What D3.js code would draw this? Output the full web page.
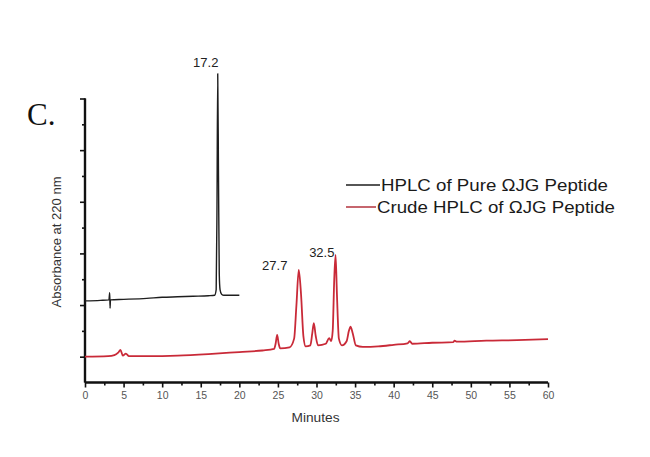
<!DOCTYPE html>
<html>
<head>
<meta charset="utf-8">
<script src="https://cdn.jsdelivr.net/npm/d3@7"></script>
<style>
  html,body{margin:0;padding:0;background:#fff;}
  svg{display:block;}
  text{font-family:Arial,"Liberation Sans",sans-serif;}
</style>
</head>
<body>
<svg id="chart" width="650" height="457"></svg>
<script>
// ---- data ----
const xTicks = [0,5,10,15,20,25,30,35,40,45,50,55,60];
const xMinorTicks = [2.5,7.5,12.5,17.5,22.5,27.5,32.5,37.5,42.5,47.5,52.5,57.5];
const yTicks = [0,1,2,3,4,5];
const yMinorTicks = [0.5,1.5,2.5,3.5,4.5];

const pureTime  = [0,2,3.1,3.2,3.25,3.3,5,8,10,12,14,16,16.8,17.0,17.1,17.2,17.3,17.4,17.5,17.7,18,20];
const pureValue = [1.08,1.09,1.10,1.24,0.94,1.10,1.11,1.13,1.15,1.16,1.17,1.18,1.19,1.30,2.8,5.48,3.5,1.6,1.3,1.21,1.19,1.19];

const crudeTime  = [0,3,3.8,4.3,4.6,4.9,5.3,5.7,8,12,16,20,23,24.5,24.7,24.9,25.1,25.3,26.5,27.1,27.4,27.7,28.0,28.3,28.6,29.2,29.45,29.65,29.9,30.2,31.2,31.65,31.9,32.1,32.3,32.47,32.65,32.9,33.3,33.9,34.2,34.4,34.7,35.1,36,38,40,41.8,42.1,42.4,45,47.7,47.9,48.2,52,56,60];
const crudeValue = [0.0,0.01,0.03,0.08,0.13,0.02,0.06,0.01,0.01,0.02,0.05,0.09,0.12,0.15,0.25,0.42,0.25,0.16,0.18,0.35,1.0,1.68,1.2,0.4,0.2,0.22,0.45,0.65,0.4,0.22,0.25,0.36,0.3,0.5,1.5,1.97,1.2,0.35,0.22,0.3,0.5,0.58,0.45,0.22,0.19,0.2,0.23,0.26,0.30,0.25,0.27,0.28,0.31,0.29,0.31,0.32,0.34];

const peakLabels = [
  {t:17.2, v:5.48, label:"17.2"},
  {t:27.7, v:1.68, label:"27.7"},
  {t:32.5, v:1.97, label:"32.5"}
];
const legendLabels = ["HPLC of Pure \u03A9JG Peptide", "Crude HPLC of \u03A9JG Peptide"];
const xTitle = "Minutes";
const yTitle = "Absorbance at 220 nm";
const panelLabel = "C.";

// ---- chart ----
const svg = d3.select("#chart");
const x = d3.scaleLinear().domain([0,60]).range([85,548]);
const y = d3.scaleLinear().domain([-0.5,5]).range([382.5,98.5]);

const axisColor = "#111";

// x axis
const xAxis = svg.append("g").attr("transform",`translate(0,${y(-0.5)})`);
xAxis.call(d3.axisBottom(x).tickValues(xTicks).tickSize(5).tickPadding(4).tickFormat(d3.format("d")));
xAxis.append("g").call(d3.axisBottom(x).tickValues(xMinorTicks).tickSize(3).tickFormat(""));
xAxis.selectAll(".domain").attr("stroke",axisColor).attr("stroke-width",2.2);
xAxis.selectAll("line").attr("stroke",axisColor).attr("stroke-width",1.6);
xAxis.selectAll("text").attr("fill","#555").style("font-size","10.5px").style("font-family","Arial, 'Liberation Sans', sans-serif");
xAxis.selectAll("path.domain").attr("d",`M${x(0)},0H${x(60)}`);

// y axis
const yAxis = svg.append("g").attr("transform",`translate(${x(0)},0)`);
yAxis.call(d3.axisLeft(y).tickValues(yTicks).tickSize(5).tickFormat(""));
yAxis.append("g").call(d3.axisLeft(y).tickValues(yMinorTicks).tickSize(3).tickFormat(""));
yAxis.selectAll(".domain").attr("stroke",axisColor).attr("stroke-width",2.2).attr("d",`M0,${y(-0.5)}V${y(5)}`);
yAxis.selectAll("line").attr("stroke",axisColor).attr("stroke-width",1.6);

// lines
const line = d3.line().x(d=>x(d[0])).y(d=>y(d[1])).curve(d3.curveMonotoneX);
const crude = crudeTime.map((t,i)=>[t,crudeValue[i]]);
const pure = pureTime.map((t,i)=>[t,pureValue[i]]);

svg.append("path").datum(crude).attr("d",line).attr("fill","none")
  .attr("stroke","#c92a38").attr("stroke-width",1.8).attr("stroke-linejoin","round");
svg.append("path").datum(pure).attr("d",line).attr("fill","none")
  .attr("stroke","#1e1e1e").attr("stroke-width",1.4).attr("stroke-linejoin","round");

// peak labels
svg.selectAll(".peak").data(peakLabels).enter().append("text")
  .attr("class","peak")
  .attr("x",(d,i)=> i===0 ? x(d.t)-12 : (i===1 ? x(d.t)-24 : x(d.t)-14))
  .attr("y",(d,i)=> i===0 ? 67 : (i===1 ? 270 : 257))
  .attr("text-anchor","middle")
  .attr("fill","#222").style("font-size","13px")
  .text(d=>d.label);

// titles
svg.append("text").attr("x",x(30)-1).attr("y",422).attr("text-anchor","middle")
  .attr("fill","#333").style("font-size","12.5px").attr("textLength",48).attr("lengthAdjust","spacingAndGlyphs")
  .text(xTitle);
svg.append("text").attr("transform","translate(61,242) rotate(-90)").attr("text-anchor","middle")
  .attr("fill","#333").style("font-size","12.5px").attr("textLength",131).attr("lengthAdjust","spacingAndGlyphs")
  .text(yTitle);

svg.append("text").attr("x",27).attr("y",125)
  .style("font-family","'Liberation Serif','Times New Roman',serif").style("font-size","31px").attr("fill","#111")
  .text(panelLabel);

// legend
const legColors = ["#1e1e1e","#b8404a"];
const legY = [185,207];
const legX1 = [346,346];
const legX2 = [380,376];
const legTextLen = [227,238];
legendLabels.forEach((lab,i)=>{
  svg.append("line").attr("x1",legX1[i]).attr("x2",legX2[i]).attr("y1",legY[i]).attr("y2",legY[i])
    .attr("stroke",legColors[i]).attr("stroke-width",1.6);
  svg.append("text").attr("x",legX2[i]+1).attr("y",legY[i]+6)
    .attr("fill","#1a1a1a").style("font-size","17px")
    .attr("textLength",legTextLen[i]).attr("lengthAdjust","spacingAndGlyphs")
    .text(lab);
});
</script>
</body>
</html>
